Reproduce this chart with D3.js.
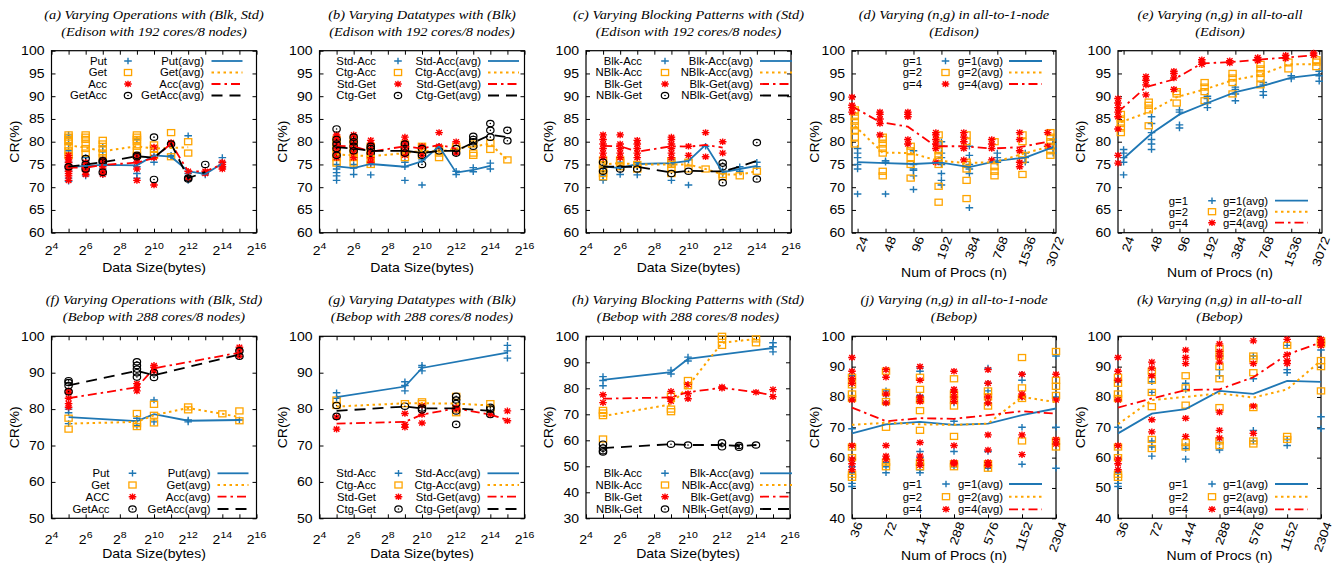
<!DOCTYPE html>
<html>
<head>
<meta charset="utf-8">
<script src="https://cdn.jsdelivr.net/npm/d3@7"></script>
<style>
  body { margin: 0; background: #fff; }
  text { font-family: "Liberation Sans", Arial, Helvetica, sans-serif; fill: #000; }
</style>
</head>
<body>
<svg id="fig" width="1334" height="563"></svg>
<script>
// ---- data: x positions (exponents of 2 for data size, n for procs) ----
var aX = [5, 6, 7, 9, 10, 11, 12, 13, 14];
var bX = [5, 6, 7, 9, 10, 11, 12, 13, 14, 15];
var cX = [5, 6, 7, 9, 10, 11, 12, 13, 14];
var fX = [5, 9, 10, 12, 14, 15];
var gX = [5, 9, 10, 12, 14, 15];
var hX = [5, 9, 10, 12, 13, 14, 15];
var edisonProcs = [24, 48, 96, 192, 384, 768, 1536, 3072];
var bebopProcs = [36, 72, 144, 288, 576, 1152, 2304];

var opNames = ["Put", "Get", "Acc", "GetAcc"];
var opNamesF = ["Put", "Get", "ACC", "GetAcc"];
var opAvgNames = ["Put(avg)", "Get(avg)", "Acc(avg)", "GetAcc(avg)"];
var dtNames = ["Std-Acc", "Ctg-Acc", "Std-Get", "Ctg-Get"];
var dtAvgNames = ["Std-Acc(avg)", "Ctg-Acc(avg)", "Std-Get(avg)", "Ctg-Get(avg)"];
var blNames = ["Blk-Acc", "NBlk-Acc", "Blk-Get", "NBlk-Get"];
var blAvgNames = ["Blk-Acc(avg)", "NBlk-Acc(avg)", "Blk-Get(avg)", "NBlk-Get(avg)"];
var gNames = ["g=1", "g=2", "g=4"];
var gAvgNames = ["g=1(avg)", "g=2(avg)", "g=4(avg)"];

// (a) Edison, varying operations
var aPut = [[71.3,72,73.5,74.5,75.5,76.5,78,79.5,81,81.5],[72.5,73.5,74.5,75.5,76.5],[72.8,74,75,76.5,77.8,79],[72,73,74.5,75.5,76.5,80.5],[75.5,77,78.5],[76.7,77],[71.5,73,81.3],[72.7,73.2],[74.5,75.5,76.5]];
var aPutAvg = [74.4,74.7,74.9,74.8,77.0,76.7,73.5,72.9,75.2];
var aGet = [[77,78,79,80,80.5,81,81.5],[77.5,78.5,79.5,80.5,81,81.5],[76.5,77.5,78.5,79.5,80.3],[77,78,79,80,80.5,81,81.5],[77,78.5,79.3],[76.7,82],[77.5,80],[],[]];
var aGetAvg = [79.2,78.7,77.9,79.0,78.5,78.6,78.8,null,null];
var aAcc = [[71.5,72.5,73,73.5,74,74.5,75,75.5,76,76.5,77],[72.8,73.5,74,74.5,75,75.5],[72.8,73.5,74.5,75,75.5,76],[71.5,74,75.5,76.5,77],[70.5,76.5,78.8],[79.5,79.8],[72,73.5],[73,73.5],[74,74.5,75,75.5]];
var aAccAvg = [74.3,74.3,74.9,75.4,76.4,79.6,73.5,73.5,75.0];
var aGA = [[74.5],[74,75,76.3],[73.3,75.5,75.8],[76.7,77],[71.7,81],[79.5],[71.8,72],[75],[]];
var aGAAvg = [74.5,75.0,75.5,76.8,76.5,79.6,72.0,73.3,null];

// (b) Edison, varying datatypes
var bStdAcc = [[71.5,72.5,73.2,74,75],[72.8,74.2,75],[72.7,75],[71.5,74.5,75.5],[70.5,76],[78.5,79],[72.8,73.5],[73.4,74.3],[74,75.3],[]];
var bStdAccAvg = [74.6,74.2,75.1,74.5,75.7,79.0,73.2,73.8,74.7,null];
var bCtgAcc = [[75.3,76.5,77.5,78.5,79.5,80.5],[75.3,76.5,77.5,78.5,79.5,80.5],[75,76,77,78,79],[76.5,77.5,78.5,79.5],[77,78,79],[76.5,77.5,78.5],[78.5,79],[77,77.5,79.5],[78.3,79.7],[76]];
var bCtgAccAvg = [77.2,77.0,76.8,77.5,78.0,77.8,78.5,79.0,79.5,76.0];
var bStdGet = [[76.5,77.5,78.5,79.5,80.5,81,81.5],[76.5,77.5,78.5,79.5,80.5,81.5],[75.5,76.5,77.5,78.5,79.5,80.3],[77,78,79,80,81],[77,79],[79,82],[77.5,80],[],[],[]];
var bStdGetAvg = [79.1,79.0,77.8,79.0,78.5,79.3,78.5,null,null,null];
var bCtgGet = [[77,78.5,79.5,80.5,82.8],[78,79,80,81],[77.5,78.5,79],[77.5,78.5,79.5],[75,77,78.5],[78],[77.5,78.5],[79,80,80.5,81.2],[81,82.5,84],[80.2,82.5]];
var bCtgGetAvg = [78.8,78.5,78.0,78.0,77.5,78.0,78.0,79.8,81.5,81.0];

// (c) Edison, varying blocking patterns
var cBlkAcc = [[71.5,72.5,73.5,74.5],[72.8,74.5,75.5],[72.7,74.5,75.5],[71.5,75,76],[70.5,76],[79],[73,73.5],[73.5,74.5],[74.5,75.5]];
var cBlkAccAvg = [74.6,74.2,75.1,75.3,75.8,79.3,73.3,74.0,74.7];
var cNBlkAcc = [[72.3,73,74,75,76],[74.5,75.5,76],[74,75],[73,74,75,75.8],[74,75.5],[74],[72.3,72.8],[72.5],[73.5]];
var cNBlkAccAvg = [75.0,75.3,75.0,75.0,75.0,74.0,72.8,72.8,73.5];
var cBlkGet = [[76.5,77.5,78.5,79.5,80.5,81.5],[76.5,77.5,78.5,79.5,81.5],[76.5,77.5,78.5,79.5,80.3],[76.5,77.5,78.5,79.5,80.5,81],[77,79],[76.7,82],[77.5,80],[],[]];
var cBlkGetAvg = [79.1,79.0,77.8,79.0,78.9,79.3,78.7,null,null];
var cNBlkGet = [[73.5,75.5],[74],[74],[73],[73.5],[],[71,74.5,75.3],[],[71.8,79.8]];
var cNBlkGetAvg = [74.5,74.5,74.5,73.2,73.6,73.5,73.5,74.5,75.8];

// (d) Edison all-to-1-node
var dG1 = [[68.5,74,75,76.5,77.5,78.5],[68.5,75.5,75.8],[69.5,72.5,73.7,74,75,78],[70.5,71.5,73,75,76.5,77.5,79,80],[65.5,73,74,75,77,79],[75.5,76.5,77.5],[75.5,76.5,77.5],[77.5,78.5,79.5,80.5]];
var dG1Avg = [75.5,75.3,75.1,75.4,74.4,75.8,76.5,78.8];
var dG2 = [[79.5,81,82.5,83.5,84.5,85.5,86.5,87],[72.5,73.5,77.5,78.5,79.5,80.5,81],[72,75,76.5,78,79],[66.7,70.2,75,76,77,78,79.5,81.5],[67.5,71.5,74,75,75.5,80,81.5],[72.5,73.5,74.5,80],[72.8,76,77,80,81.5],[77,78,79,80,81,82]];
var dG2Avg = [83.5,77.6,77.5,75.8,75.3,75.5,77.3,79.0];
var dG4 = [[86.5,87.5,88,89.8],[81.5,84,85,86,86.5],[79.5,80.5,85.5,86,86.5],[75.5,78.5,79.5,80.5,81.5,82],[76,78.5,80,81,82],[76,78.5,79.5,80.5],[74.5,75.5,78,80.5,82],[79,82]];
var dG4Avg = [87.8,84.3,83.3,79.0,79.0,78.5,78.8,80.0];

// (e) Edison all-to-all
var eG1 = [[72.7,75.5,76.5,77.5,78.3],[78.3,79.5,80.5,82,84,85.5],[83,83.7,86.5,87],[87.5,88.5,89.5,90],[89,90.5,91.5,92],[90.2,91,92.5,93],[93.8,94.5],[93.3,94.5,95.5]];
var eG1Avg = [76.3,81.8,86.0,88.5,90.9,92.3,94.1,94.8];
var eG2 = [[82,83,84,85,86],[83.5,87,88,88.7],[88.5,90.5,91],[89,91,92,93],[90.5,93,94,95],[92.5,94,95,96,97],[96,97.5],[96.5,97.5,98]];
var eG2Avg = [84.3,86.5,89.8,91.5,93.5,94.7,97.0,97.0];
var eG4 = [[75.3,77,82.8,85.5,86.5,87.5,88.5,89.5],[90.3,92.5,93.5,94.3],[91.5,94,95,95.5],[97,97.5,98],[97.3,97.8],[97.8,98.5],[98.3,99],[99,99.5]];
var eG4Avg = [86.5,92.0,93.7,97.2,97.5,98.0,98.5,99.0];

// (f) Bebop, varying operations
var fPut = [[76,79,80],[75.5,77.5],[76.5,82.5],[76.5,77],[],[77]];
var fPutAvg = [77.8,76.7,78.6,76.8,null,77.0];
var fGet = [[74.5,77.5],[75.2,76,78.8],[76.2,78.3,81.3],[79.8,80.6],[78.7],[76.8,79.5]];
var fGetAvg = [76.0,76.5,78.3,80.3,78.7,77.8];
var fAcc = [[80.5,81.5,83,84.5,85],[85,86,87],[90.5,91.5,92],[],[],[94.5,96,97]];
var fAccAvg = [83.0,86.0,91.2,null,null,95.5];
var fGA = [[84.8,86.5,87.3,87.8],[88.8,90,91,92,93],[88.7,90],[],[],[94.5,96]];
var fGAAvg = [86.5,90.5,89.3,null,null,95.0];

// (g) Bebop, varying datatypes
var gStdAcc = [[83,84.5],[85,86.5,87.5],[90.5,91.5,92],[],[],[94,96,97.5]];
var gStdAccAvg = [83.3,86.2,91.3,null,null,95.5];
var gCtgAcc = [[81,82.5],[81.5],[81.5,82],[79,80,83.5],[80,81.5],[]];
var gCtgAccAvg = [80.7,81.6,81.6,81.5,81.0,null];
var gStdGet = [[74.5,77.8],[75,75.8,78.8],[76.2,78.5,81],[80,80.5],[78.5],[76.8,79.5]];
var gStdGetAvg = [76.0,76.5,78.5,80.2,78.5,77.0];
var gCtgGet = [[78,81],[80.8],[79.8,80.3],[75.8,79.5,81.5,82.5,83.5],[78.5,80,80.5],[]];
var gCtgGetAvg = [79.5,80.7,80.2,80.2,79.5,null];

// (h) Bebop, varying blocking patterns
var hBlkAcc = [[81,83,84.5],[85.5,87],[90.5,92],[],[],[],[94,96,97.5]];
var hBlkAccAvg = [83.2,86.2,91.3,null,null,null,95.5];
var hNBlkAcc = [[60.5,69.5,70.5,71.5],[71,72,77],[81,83],[96.5,99,100],[],[97.5,99],[]];
var hNBlkAccAvg = [69.3,73.8,80.8,97.5,null,99.0,null];
var hBlkGet = [[74.5,77.5],[75,76,78.8],[76,78,81.5],[80,80.5],[],[78.5],[76.8,79.5]];
var hBlkGetAvg = [76.0,76.5,78.5,80.2,null,78.5,77.3];
var hNBlkGet = [[55.5,56,57,58.5],[58.5],[58.2],[57.5,59],[57.3,58],[58.2],[]];
var hNBlkGetAvg = [57.0,58.5,58.2,58.2,57.8,58.2,null];

// (j) Bebop all-to-1-node
var jG1 = [[50.5,51.5,55,57,59,69.5,79,85.5,87],[55,57,58.5,78,80.5,82],[55,56,58,60,62,79,80.5,88.5,89.5],[57,58,62,72,78,80,82],[56.5,58,62,78,82,84.5,89.5],[57.8,70,80,85.5,87.5],[56.5,65,70,80,93.5]];
var jG1Avg = [68.0,71.0,71.8,70.8,71.2,74.0,76.2];
var jG2 = [[53.5,54.5,60,63.5,79.5,81,84,86.5],[57,58.5,70,78.5,81.5,88.5],[57,58.5,69,75.5,79,82.5,86.5],[57,58,67,77,79,81,86],[56.5,58,77,80,82],[65.5,79.5,83,93],[63.5,65.5,80.5,83.5,85.5,95]];
var jG2Avg = [70.8,71.5,71.0,70.8,71.2,80.0,78.3];
var jG4 = [[56,58,59.5,64,79,84.5,86,88.5,93],[59.5,60.5,64,78,81,86.5,89],[57.5,59,60.5,65,78.5,80,85.5,90],[58,58.5,64,78.5,80,81.5,82.5,88.5],[57.5,58.5,62.5,67.5,78,80,84.5,89],[61,67.5,80,81,87.5],[64.5,66,79,87.5]];
var jG4Avg = [76.5,72.0,73.0,72.8,74.0,75.3,74.5];

// (k) Bebop all-to-all
var kG1 = [[50.5,51.5,55,70,79,85],[60.5,63.5,65.5,81.5,85],[59.5,63,64,82.5,84.5],[62.5,65,87,89],[65.5,69,86,93.5],[64,66,88,89,97],[69.5,73.5,95.5]];
var kG1Avg = [68.0,74.5,76.0,82.0,81.0,85.3,85.0];
var kG2 = [[53.5,54.5,60,63.5,79.5,81,84.5,86.5],[63,66,76.8,81.5,85.5,88.5],[63.5,65,77.3,83,87],[64,65.5,76.5,86,90,93.5,96],[64.5,65.5,76.5,88,92.5,93.5],[66,67,97],[82,90,92,97.5,98.5]];
var kG2Avg = [71.0,79.0,80.0,81.2,79.8,82.5,92.0];
var kG4 = [[56,58,59.5,64,79,85.5,88.5,93],[68.5,72.5,87,89.5,91.5],[67,73,91,93,95.5],[66.5,69,75,91.5,93.5,95,97.5],[68,77,91,98.5],[91,92,94,99],[97,98,99]];
var kG4Avg = [76.5,79.5,82.3,82.5,86.5,94.0,98.0];

// ---- styles ----
var styles = [
  { color: "#1f77b4", marker: "plus", dash: null, width: 1.8 },
  { color: "#ffa500", marker: "square", dash: "2.5,3.5", width: 2 },
  { color: "#ff0000", marker: "star", dash: "9,4,2.5,4", width: 1.8 },
  { color: "#000000", marker: "circle", dash: "11,7", width: 1.8 }
];
var SX = 1.17;
var H = 182;
var rows = [
  { top: 50.7, tickLab: 22, xlab: 39.5, xlabP: 44.5, titleY: [18.5, 35.5] },
  { top: 336.3, tickLab: 26, xlab: 40, xlabP: 42, titleY: [303.5, 320.5] }
];
var topLeg = [61, 72.5, 84, 95.5];
var botLeg = [473.3, 485, 496.7, 509];

var panels = [
  { row: 0, left: 51.5, w: 205, kind: "size", xs: aX, yDom: [60, 100], yStep: 5,
    title: ["(a) Varying Operations with (Blk, Std)", "(Edison with 192 cores/8 nodes)"],
    names: opNames, avgNames: opAvgNames,
    series: [[aPut, aPutAvg], [aGet, aGetAvg], [aAcc, aAccAvg], [aGA, aGAAvg]],
    leg: { c1: 55.5, m: 76.5, c2: 152.5, l1: 160, l2: 191, rows: topLeg } },
  { row: 0, left: 319.5, w: 205, kind: "size", xs: bX, yDom: [60, 100], yStep: 5,
    title: ["(b) Varying Datatypes with (Blk)", "(Edison with 192 cores/8 nodes)"],
    names: dtNames, avgNames: dtAvgNames,
    series: [[bStdAcc, bStdAccAvg], [bCtgAcc, bCtgAccAvg], [bStdGet, bStdGetAvg], [bCtgGet, bCtgGetAvg]],
    leg: { c1: 56.5, m: 78.5, c2: 161.5, l1: 168.5, l2: 199.5, rows: topLeg } },
  { row: 0, left: 586, w: 205, kind: "size", xs: cX, yDom: [60, 100], yStep: 5,
    title: ["(c) Varying Blocking Patterns with (Std)", "(Edison with 192 cores/8 nodes)"],
    names: blNames, avgNames: blAvgNames,
    series: [[cBlkAcc, cBlkAccAvg], [cNBlkAcc, cNBlkAccAvg], [cBlkGet, cBlkGetAvg], [cNBlkGet, cNBlkGetAvg]],
    leg: { c1: 56, m: 79, c2: 167, l1: 174, l2: 206, rows: topLeg } },
  { row: 0, left: 852, w: 204, kind: "procs", xs: edisonProcs, yDom: [60, 100], yStep: 5,
    title: ["(d) Varying (n,g) in all-to-1-node", "(Edison)"],
    names: gNames, avgNames: gAvgNames,
    series: [[dG1, dG1Avg], [dG2, dG2Avg], [dG4, dG4Avg]],
    leg: { c1: 70, m: 93.5, c2: 151, l1: 157, l2: 190, rows: topLeg } },
  { row: 0, left: 1118, w: 204, kind: "procs", xs: edisonProcs, yDom: [60, 100], yStep: 5,
    title: ["(e) Varying (n,g) in all-to-all", "(Edison)"],
    names: gNames, avgNames: gAvgNames,
    series: [[eG1, eG1Avg], [eG2, eG2Avg], [eG4, eG4Avg]],
    leg: { c1: 70, m: 94, c2: 150, l1: 157, l2: 190, rows: [200.7, 211.7, 222.7] } },
  { row: 1, left: 51.5, w: 205, kind: "size", xs: fX, yDom: [50, 100], yStep: 10,
    title: ["(f) Varying Operations with (Blk, Std)", "(Bebop with 288 cores/8 nodes)"],
    names: opNamesF, avgNames: opAvgNames,
    series: [[fPut, fPutAvg], [fGet, fGetAvg], [fAcc, fAccAvg], [fGA, fGAAvg]],
    leg: { c1: 58, m: 81, c2: 159, l1: 166, l2: 197, rows: botLeg } },
  { row: 1, left: 319.5, w: 205, kind: "size", xs: gX, yDom: [50, 100], yStep: 10,
    title: ["(g) Varying Datatypes with (Blk)", "(Bebop with 288 cores/8 nodes)"],
    names: dtNames, avgNames: dtAvgNames,
    series: [[gStdAcc, gStdAccAvg], [gCtgAcc, gCtgAccAvg], [gStdGet, gStdGetAvg], [gCtgGet, gCtgGetAvg]],
    leg: { c1: 56.5, m: 79, c2: 161, l1: 168, l2: 199.5, rows: botLeg } },
  { row: 1, left: 586, w: 204, kind: "size", xs: hX, yDom: [30, 100], yStep: 10,
    title: ["(h) Varying Blocking Patterns with (Std)", "(Bebop with 288 cores/8 nodes)"],
    names: blNames, avgNames: blAvgNames,
    series: [[hBlkAcc, hBlkAccAvg], [hNBlkAcc, hNBlkAccAvg], [hBlkGet, hBlkGetAvg], [hNBlkGet, hNBlkGetAvg]],
    leg: { c1: 56, m: 79, c2: 168, l1: 174, l2: 206, rows: botLeg } },
  { row: 1, left: 852, w: 204, kind: "procs", xs: bebopProcs, yDom: [40, 100], yStep: 10,
    title: ["(j) Varying (n,g) in all-to-1-node", "(Bebop)"],
    names: gNames, avgNames: gAvgNames,
    series: [[jG1, jG1Avg], [jG2, jG2Avg], [jG4, jG4Avg]],
    leg: { c1: 70, m: 94, c2: 151, l1: 157, l2: 190, rows: [484, 496.7, 509.3] } },
  { row: 1, left: 1118, w: 203, kind: "procs", xs: bebopProcs, yDom: [40, 100], yStep: 10,
    title: ["(k) Varying (n,g) in all-to-all", "(Bebop)"],
    names: gNames, avgNames: gAvgNames,
    series: [[kG1, kG1Avg], [kG2, kG2Avg], [kG4, kG4Avg]],
    leg: { c1: 70, m: 94, c2: 150, l1: 157, l2: 190, rows: [484, 496.7, 509.3] } }
];

var svg = d3.select("#fig");
svg.append("rect").attr("width", 1334).attr("height", 563).attr("fill", "#fff");

function putText(g, x, y, s, o) {
  o = o || {};
  var t = g.append("text")
    .attr("transform", "translate(" + x + "," + y + ")" + (o.rot ? " rotate(" + o.rot + ")" : "") +
      " scale(" + (o.sx || SX) + ",1)")
    .attr("text-anchor", o.anchor || "middle")
    .style("font-size", (o.size || 12) + "px")
    .text(s);
  if (o.serif) t.style("font-family", '"Liberation Serif", "Times New Roman", serif').style("font-style", "italic");
  return t;
}

function drawMarker(g, type, x, y, color) {
  if (type === "square") {
    g.append("rect").attr("x", x - 3.6).attr("y", y - 3).attr("width", 7.2).attr("height", 6)
      .attr("fill", "none").attr("stroke", color).attr("stroke-width", 1.3);
  } else if (type === "circle") {
    g.append("ellipse").attr("cx", x).attr("cy", y).attr("rx", 3.7).attr("ry", 3.2)
      .attr("fill", "none").attr("stroke", color).attr("stroke-width", 1.2);
    g.append("circle").attr("cx", x).attr("cy", y).attr("r", 0.8).attr("fill", color);
  } else {
    var d = type === "plus" ? "M-3.8,0H3.8M0,-3.3V3.3"
      : "M-3.8,0H3.8M0,-3.3V3.3M-2.8,-2.5L2.8,2.5M-2.8,2.5L2.8,-2.5";
    g.append("path").attr("d", d).attr("transform", "translate(" + x + "," + y + ")")
      .attr("fill", "none").attr("stroke", color).attr("stroke-width", 1.4);
  }
}

panels.forEach(function (p) {
  var r = rows[p.row];
  var g = svg.append("g");
  var top = r.top, bottom = r.top + H, right = p.left + p.w;
  var cx = p.left + p.w / 2;

  var x, xv, offsets;
  if (p.kind === "size") {
    x = d3.scaleLog().base(2).domain([16, 65536]).range([p.left, right]);
    xv = function (v) { return Math.pow(2, v); };
    offsets = [0, 0, 0, 0];
  } else {
    var dom = p.row === 0 ? [p.xs[0] * Math.pow(2, -0.2), p.xs[p.xs.length - 1] * Math.pow(2, 0.1)]
      : [p.xs[0], p.xs[p.xs.length - 1]];
    x = d3.scaleLog().base(2).domain(dom).range([p.left, right]);
    xv = function (v) { return v; };
    offsets = p.row === 0 ? [0, -0.1, -0.2] : [0, 0, 0];
  }
  var y = d3.scaleLinear().domain(p.yDom).range([bottom, top]);
  var yTicks = d3.range(p.yDom[0], p.yDom[1] + 0.1, p.yStep);

  // titles
  putText(g, cx, r.titleY[0], p.title[0], { serif: true, size: 12.5, sx: 1.15 });
  putText(g, cx, r.titleY[1], p.title[1], { serif: true, size: 12.5, sx: 1.15 });

  // y axes (ticks inward, mirrored)
  var yl = g.append("g").attr("transform", "translate(" + p.left + ",0)")
    .call(d3.axisLeft(y).tickValues(yTicks).tickSize(-4).tickPadding(6));
  yl.select(".domain").remove();
  yl.selectAll("text").attr("transform", "scale(" + SX + ",1)").style("font-size", "12px");
  var yr = g.append("g").attr("transform", "translate(" + right + ",0)")
    .call(d3.axisRight(y).tickValues(yTicks).tickSize(-4).tickFormat(""));
  yr.select(".domain").remove();

  // x axes
  var xTicks = p.kind === "size" ? d3.range(4, 17).map(function (e) { return Math.pow(2, e); }) : p.xs;
  var xb = g.append("g").attr("transform", "translate(0," + bottom + ")")
    .call(d3.axisBottom(x).tickValues(xTicks).tickSize(-4).tickFormat(""));
  xb.select(".domain").remove();
  var xt = g.append("g").attr("transform", "translate(0," + top + ")")
    .call(d3.axisTop(x).tickValues(xTicks).tickSize(-4).tickFormat(""));
  xt.select(".domain").remove();

  if (p.kind === "size") {
    var ev = d3.range(4, 17, 2);
    ev.forEach(function (e) {
      var t = g.append("text")
        .attr("transform", "translate(" + x(Math.pow(2, e)) + "," + (bottom + r.tickLab) + ") scale(" + SX + ",1)")
        .attr("text-anchor", "middle").style("font-size", "12px");
      t.append("tspan").text("2");
      t.append("tspan").attr("dy", -6).style("font-size", "9px").text(e);
    });
    putText(g, cx, bottom + r.xlab, "Data Size(bytes)");
  } else {
    p.xs.forEach(function (n) {
      putText(g, x(n) + 7, bottom + 4, String(n), { rot: -70, anchor: "end" }).attr("dy", "0.35em");
    });
    putText(g, cx, bottom + r.xlabP, "Num of Procs (n)");
  }
  putText(g, p.left - 33, (top + bottom) / 2, "CR(%)", { rot: -90 });

  // border
  g.append("rect").attr("x", p.left).attr("y", top).attr("width", p.w).attr("height", H)
    .attr("fill", "none").attr("stroke", "#000").attr("stroke-width", 1.2);

  // scatter points
  p.series.forEach(function (s, si) {
    var st = styles[si];
    var k = Math.pow(2, offsets[si] || 0);
    s[0].forEach(function (vals, i) {
      vals.forEach(function (v) {
        drawMarker(g, st.marker, x(xv(p.xs[i]) * k), y(v), st.color);
      });
    });
  });

  // average lines
  p.series.forEach(function (s, si) {
    var st = styles[si];
    var k = Math.pow(2, offsets[si] || 0);
    var pts = [];
    s[1].forEach(function (v, i) { if (v != null) pts.push([xv(p.xs[i]) * k, v]); });
    var line = d3.line().x(function (d) { return x(d[0]); }).y(function (d) { return y(d[1]); });
    g.append("path").datum(pts)
      .attr("d", line)
      .attr("fill", "none")
      .attr("stroke", st.color)
      .attr("stroke-width", st.width)
      .attr("stroke-dasharray", st.dash);
  });

  // legend
  var lg = p.leg;
  p.names.forEach(function (nm, i) {
    var st = styles[i];
    var yy = lg.rows[i];
    putText(g, p.left + lg.c1, yy + 3.8, nm, { anchor: "end", size: 10.5, sx: 1.08 });
    drawMarker(g, st.marker, p.left + lg.m, yy, st.color);
    putText(g, p.left + lg.c2, yy + 3.8, p.avgNames[i], { anchor: "end", size: 10.5, sx: 1.08 });
    g.append("line")
      .attr("x1", p.left + lg.l1).attr("x2", p.left + lg.l2)
      .attr("y1", yy).attr("y2", yy)
      .attr("stroke", st.color)
      .attr("stroke-width", st.width)
      .attr("stroke-dasharray", st.dash);
  });
});
</script>
</body>
</html>
